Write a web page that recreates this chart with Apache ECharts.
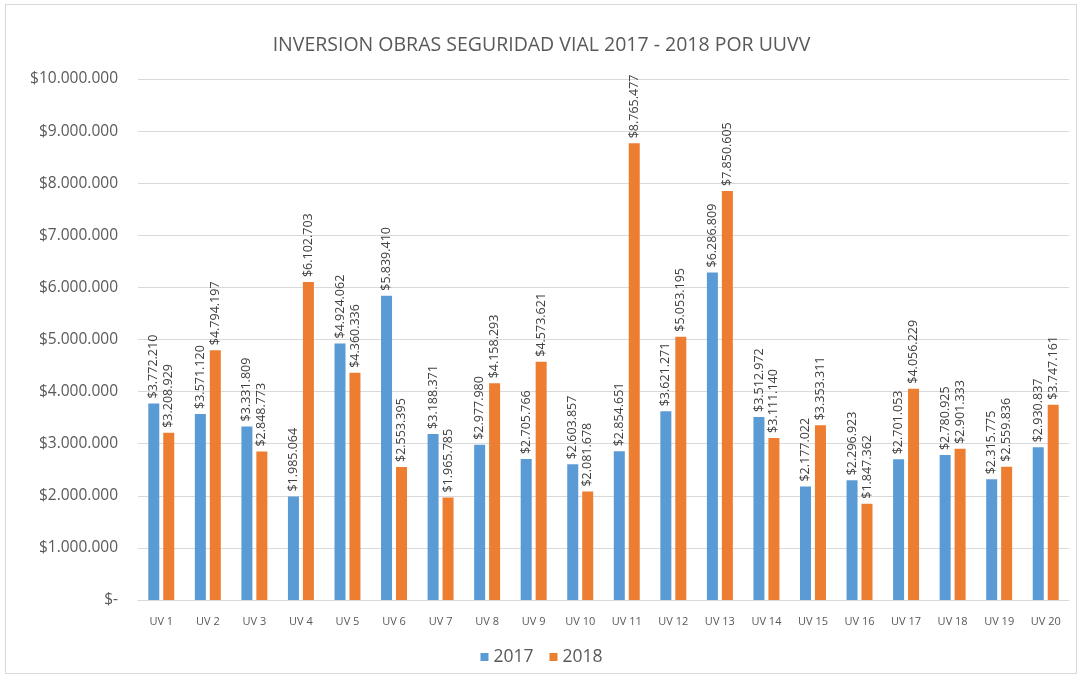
<!DOCTYPE html>
<html>
<head>
<meta charset="utf-8">
<script src="https://cdn.jsdelivr.net/npm/echarts@6/dist/echarts.min.js"></script>
<style>
  html, body { margin: 0; padding: 0; background: #fff; }
  #frame { position: absolute; left: 5px; top: 4px; width: 1072px; height: 670px; border: 1px solid #d9d9d9; box-sizing: border-box; }
  #chart { width: 1083px; height: 680px; }
</style>
</head>
<body>
<div id="frame"></div>
<div id="chart"></div>
<script>
// Inversión en obras de seguridad vial por unidad vecinal (UV), en pesos
const categories = ['UV 1','UV 2','UV 3','UV 4','UV 5','UV 6','UV 7','UV 8','UV 9','UV 10',
  'UV 11','UV 12','UV 13','UV 14','UV 15','UV 16','UV 17','UV 18','UV 19','UV 20'];
const values2017 = [3772210, 3571120, 3331809, 1985064, 4924062, 5839410, 3188371, 2977980, 2705766, 2603857,
  2854651, 3621271, 6286809, 3512972, 2177022, 2296923, 2701053, 2780925, 2315775, 2930837];
const values2018 = [3208929, 4794197, 2848773, 6102703, 4360336, 2553395, 1965785, 4158293, 4573621, 2081678,
  8765477, 5053195, 7850605, 3111140, 3353311, 1847362, 4056229, 2901333, 2559836, 3747161];
const seriesNames = ['2017', '2018'];

function money(v) {
  if (v === 0) return '$-';
  return '$' + String(Math.round(v)).replace(/\B(?=(\d{3})+(?!\d))/g, '.');
}

const font = '"Open Sans", "Liberation Sans", sans-serif';
const chart = echarts.init(document.getElementById('chart'));

const labelCfg = {
  show: true,
  position: 'top',
  rotate: 90,
  align: 'left',
  verticalAlign: 'middle',
  distance: 5,
  color: '#404040',
  fontSize: 12.5,
  fontFamily: font,
  formatter: p => money(p.value)
};

chart.setOption({
  animation: false,
  title: {
    text: 'INVERSION OBRAS SEGURIDAD VIAL 2017 - 2018 POR UUVV',
    left: 'center',
    top: 30,
    textStyle: { color: '#595959', fontSize: 19.5, fontWeight: 'normal', fontFamily: font }
  },
  legend: {
    data: seriesNames,
    bottom: 9,
    left: 'center',
    itemWidth: 8,
    itemHeight: 8,
    itemGap: 16,
    icon: 'rect',
    textStyle: { color: '#595959', fontSize: 17.5, fontFamily: font }
  },
  grid: { left: 138, right: 14, top: 79, bottom: 80 },
  xAxis: {
    type: 'category',
    data: categories,
    axisLine: { lineStyle: { color: '#d9d9d9' } },
    axisTick: { show: false },
    axisLabel: { color: '#595959', fontSize: 11, fontFamily: font, margin: 16 }
  },
  yAxis: {
    type: 'value',
    min: 0,
    max: 10000000,
    interval: 1000000,
    axisLine: { show: false },
    axisTick: { show: false },
    splitLine: { lineStyle: { color: '#d9d9d9', width: 1 } },
    axisLabel: { color: '#595959', fontSize: 15.5, fontFamily: font, margin: 20, formatter: money }
  },
  series: [
    { name: seriesNames[0], type: 'bar', data: values2017, barWidth: 11, barGap: '36%',
      itemStyle: { color: '#5B9BD5' }, label: labelCfg },
    { name: seriesNames[1], type: 'bar', data: values2018, barWidth: 11, barGap: '36%',
      itemStyle: { color: '#ED7D31' }, label: labelCfg }
  ]
});
</script>
</body>
</html>
